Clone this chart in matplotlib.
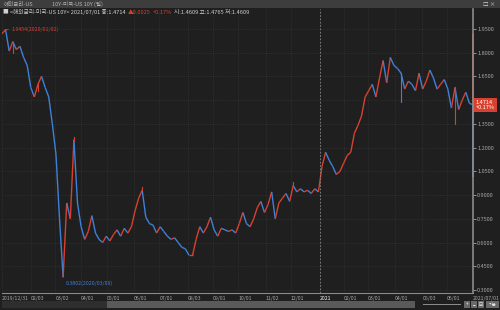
import numpy as np
import pandas as pd
import matplotlib
matplotlib.use("Agg")
import matplotlib.pyplot as plt
import matplotlib.dates as mdates
import matplotlib.transforms as mtransforms
from matplotlib.collections import LineCollection
from matplotlib.patches import Rectangle

plt.rcParams['font.family'] = ['Noto Sans CJK KR', 'DejaVu Sans']

# US 10Y yield (roughly every 3 trading days)
yields = [
    1.92, 1.9454, 1.81, 1.87, 1.82, 1.84, 1.77, 1.72, 1.58, 1.52,
    1.60, 1.65, 1.58, 1.52, 1.35, 1.16, 0.75, 0.3802, 0.85, 0.75,
    1.25, 0.85, 0.70, 0.62, 0.67, 0.77, 0.66, 0.62, 0.60, 0.64,
    0.61, 0.65, 0.68, 0.64, 0.69, 0.66, 0.70, 0.80, 0.88, 0.93,
    0.76, 0.72, 0.71, 0.66, 0.70, 0.67, 0.64, 0.62, 0.63, 0.60,
    0.57, 0.56, 0.52, 0.52, 0.62, 0.70, 0.66, 0.70, 0.76, 0.68,
    0.64, 0.69, 0.68, 0.67, 0.68, 0.66, 0.72, 0.79, 0.72, 0.70,
    0.75, 0.82, 0.86, 0.79, 0.84, 0.92, 0.75, 0.85, 0.88, 0.91,
    0.86, 0.96, 0.92, 0.94, 0.92, 0.93, 0.91, 0.94, 0.92, 1.08,
    1.17, 1.12, 1.08, 1.03, 1.05, 1.10, 1.15, 1.17, 1.29, 1.34,
    1.40, 1.52, 1.56, 1.60, 1.52, 1.64, 1.75, 1.61, 1.77, 1.72,
    1.70, 1.67, 1.57, 1.62, 1.60, 1.56, 1.67, 1.57, 1.62, 1.69,
    1.64, 1.57, 1.60, 1.63, 1.57, 1.45, 1.58, 1.44, 1.50, 1.55,
    1.48, 1.4714,
]
dates = pd.date_range("2019-12-31", "2021-07-01", periods=len(yields))

# a few long candle wicks visible in the chart: (point index, wick end)
wick_idx = [3, 10, 20, 39, 81, 111, 126]
wick_end = [1.80, 1.56, 1.27, 0.95, 0.98, 1.49, 1.35]

tick_dates = ["2019-12-31", "2020-02-03", "2020-03-02", "2020-04-01", "2020-05-01",
              "2020-06-01", "2020-07-01", "2020-08-03", "2020-09-01", "2020-10-01",
              "2020-11-02", "2020-12-01", "2021-01-04", "2021-02-01", "2021-03-01",
              "2021-04-01", "2021-05-03", "2021-06-01", "2021-07-01"]
tick_labels = ["2019/12/31", "02/03", "03/02", "04/01", "05/01", "06/01", "07/01",
               "08/03", "09/01", "10/01", "11/02", "12/01", "2021", "02/01", "03/01",
               "04/01", "05/03", "06/01", "2021/07/01"]
y_ticks = [1.95, 1.80, 1.65, 1.50, 1.35, 1.20, 1.05, 0.90, 0.75, 0.60, 0.45, 0.30]

last = 1.4714
hi_val, hi_date = 1.9454, "2020/01/02"
lo_val, lo_date = 0.3802, "2020/03/09"

BG = "#1f1f1f"
RED = "#d8412f"
BLUE = "#3f80d8"
GREY = "#a8a8a8"

W, H = 500, 310
fig = plt.figure(figsize=(5, 3.1), dpi=100, facecolor=BG)

# header bar
fig.patches.append(Rectangle((0, 1 - 8 / H), 1, 8 / H, transform=fig.transFigure,
                             facecolor="#3d3d3d", edgecolor="none"))
fig.text(4 / W, 1 - 4 / H, "해외금리-US", color="#b8b8b8", fontsize=4, va="center")
fig.text(52 / W, 1 - 4 / H, "10Y-미국-US 10Y (일)", color="#b8b8b8", fontsize=4, va="center")
fig.text(483 / W, 1 - 4 / H, "□ ×", color="#d0d0d0", fontsize=4, va="center")

ax = fig.add_axes([2 / W, 1 - 293 / H, 471 / W, 284 / H])
ax.set_facecolor(BG)

x = mdates.date2num(dates)
pts = np.column_stack([x, yields])
segs = np.stack([pts[:-1], pts[1:]], axis=1)
cols = [RED if b >= a else BLUE for a, b in zip(yields[:-1], yields[1:])]
ax.add_collection(LineCollection(segs, colors=cols, linewidths=1.0))
for i, v in zip(wick_idx, wick_end):
    c = RED if yields[i] >= yields[i - 1] else BLUE
    ax.plot([x[i], x[i]], [yields[i], v], color=c, lw=0.8)

ax.set_xlim(mdates.datestr2num("2019-12-31"), mdates.datestr2num("2021-07-01"))
ax.set_ylim(0.281, 2.076)

ax.set_xticks([mdates.datestr2num(d) for d in tick_dates])
ax.set_xticklabels(tick_labels)
for lab in ax.get_xticklabels():
    lab.set_ha("left")
    lab.set_color("#ffffff" if lab.get_text() == "2021" else GREY)
ax.tick_params(axis="x", length=0, pad=2, labelsize=3.7)

ax.yaxis.tick_right()
ax.set_yticks(y_ticks)
# the 1.5000 label sits under the current-price tag
ax.set_yticklabels(["" if v == 1.50 else f"{v:.4f}" for v in y_ticks])
ax.tick_params(axis="y", length=2, width=0.6, color=GREY, pad=1, labelsize=4, labelcolor=GREY)

ax.grid(True, color="#3c3c3c", linestyle=(0, (1, 2)), linewidth=0.5)
ax.axvline(mdates.datestr2num("2021-01-04"), color="#8a8a8a", linestyle=(0, (2, 2)), linewidth=0.6)

for side in ["top", "left"]:
    ax.spines[side].set_visible(False)
ax.spines["right"].set_color("#8a8a8a")
ax.spines["right"].set_linewidth(1.2)
ax.spines["bottom"].set_color("#8a8a8a")
ax.spines["bottom"].set_linewidth(0.8)

# range bar on the price axis
trans = mtransforms.blended_transform_factory(ax.transAxes, ax.transData)
ax.plot([1, 1], [last, 1.91], color=RED, lw=1.4, transform=trans, clip_on=False)
ax.plot([1, 1], [last, 1.02], color=BLUE, lw=1.4, transform=trans, clip_on=False)

# current price tag
ax.text(1.006, last, "1.4714\n+0.17%", transform=trans, color="white", fontsize=4,
        va="center", ha="left", linespacing=1.0,
        bbox=dict(boxstyle="square,pad=0.35", facecolor=RED, edgecolor="none"))

# max / min annotations
hi_x = mdates.date2num(dates[1])
lo_x = mdates.date2num(dates[17])
ax.annotate(f"{hi_val:.4f}({hi_date})", xy=(hi_x, hi_val), xytext=(4, 0),
            textcoords="offset points", color=RED, fontsize=3.8, va="center",
            arrowprops=dict(arrowstyle="-", color=RED, lw=0.6))
ax.annotate(f"{lo_val:.4f}({lo_date})", xy=(lo_x, lo_val), xytext=(2, -4),
            textcoords="offset points", color=BLUE, fontsize=3.8, va="center",
            arrowprops=dict(arrowstyle="-", color=BLUE, lw=0.6,
                            connectionstyle="angle,angleA=0,angleB=90,rad=0"))

# info line, pieces placed one after another
fig.canvas.draw()
renderer = fig.canvas.get_renderer()
info_parts = [("■ <해외금리-미국-US 10Y> 2021/07/01 종:1.4714", "#d0d0d0"),
              ("▲0.0025", RED), ("+0.17%", RED),
              ("시:1.4609 고:1.4765 저:1.4609", "#d0d0d0")]
xpos = 3
for s, c in info_parts:
    t = fig.text(xpos / W, 1 - 12 / H, s, color=c, fontsize=4.1, va="center")
    xpos = t.get_window_extent(renderer).x1 + 2

# scroll bar at the bottom
fig.patches.append(Rectangle((2 / W, 2 / H), 105 / W, 7 / H, transform=fig.transFigure,
                             facecolor="#2e2e2e", edgecolor="none"))
fig.patches.append(Rectangle((107 / W, 2 / H), 308 / W, 7 / H, transform=fig.transFigure,
                             facecolor="#5a5a5a", edgecolor="none"))
fig.patches.append(Rectangle((423 / W, 5 / H), 38 / W, 1.5 / H, transform=fig.transFigure,
                             facecolor="#8a8a8a", edgecolor="none"))
for i, s in enumerate(["+", "−", "⊟"]):
    fig.patches.append(Rectangle(((464 + i * 7) / W, 2 / H), 6 / W, 7 / H,
                                 transform=fig.transFigure, facecolor="#6a6a6a",
                                 edgecolor="none"))
    fig.text((467 + i * 7) / W, 5.5 / H, s, color="white", fontsize=3.5,
             ha="center", va="center")
fig.patches.append(Rectangle((486 / W, 2 / H), 13 / W, 7 / H, transform=fig.transFigure,
                             facecolor="#6a6a6a", edgecolor="none"))
fig.text(492.5 / W, 5.5 / H, "기본", color="white", fontsize=3, ha="center", va="center")

fig.savefig("out.png", dpi=100, facecolor=BG)
